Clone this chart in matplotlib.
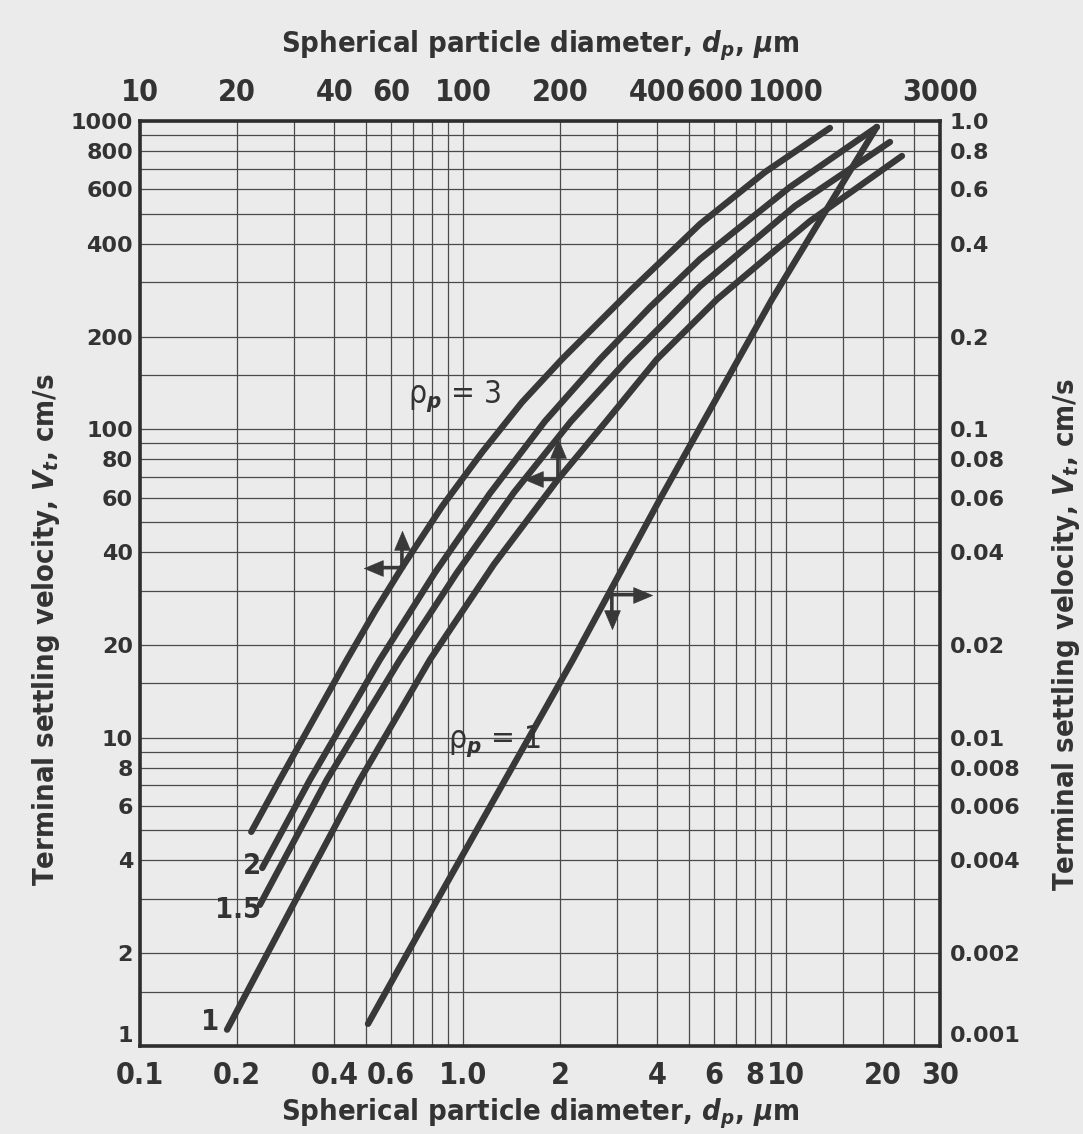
import matplotlib
matplotlib.use("Agg")
import matplotlib.pyplot as plt
from matplotlib import font_manager as fm
from matplotlib.transforms import offset_copy
from matplotlib.ticker import FixedLocator, FixedFormatter, NullLocator

# ---------------- data ----------------
# Family A: top axis diameter (um, 10-3000), left axis velocity (cm/s, 1-1000)
rho3_d = [22.1, 27.1, 43.7, 53.4, 64.7, 86.1, 114.5, 152.3, 202.5, 331.2, 541.8, 861, 1368]
rho3_v = [4.95, 7.31, 17.9, 25.7, 35.6, 56.2, 84.2, 122.4, 168.8, 282.7, 463, 682.6, 949]
rho2_d = [23.9, 33.6, 55.3, 81.9, 121.2, 179.4, 265.6, 379.2, 541.8, 1029, 1912]
rho2_v = [3.78, 7.31, 17.9, 34.3, 62.0, 106.2, 168.8, 248.9, 356.4, 610.7, 956]
rho15_d = [23.5, 37.9, 63.8, 95.8, 143.8, 216.0, 324, 419.1, 541.8, 1066, 2099]
rho15_v = [2.87, 7.31, 17.9, 34.3, 62.4, 106.2, 168.8, 220.9, 291, 529.7, 855]
rho1_d = [18.6, 29.8, 48.0, 79.0, 124.7, 196.8, 279.1, 398.6, 611.5, 1187, 2286]
rho1_v = [1.13, 2.87, 7.31, 17.9, 36.5, 68.8, 106.9, 168.8, 264, 473.5, 770]
# Family B: bottom axis diameter (um, 0.1-30), right axis velocity (cm/s, 0.001-1)
small_d = [0.508, 0.790, 2.19, 4.07, 9.05, 19.1]
small_v = [0.00118, 0.00270, 0.0179, 0.0593, 0.264, 0.956]

top_ticks = [10, 20, 40, 60, 100, 200, 400, 600, 1000, 3000]
top_labels = ["10", "20", "40", "60", "100", "200", "400", "600", "1000", "3000"]
bottom_ticks = [0.1, 0.2, 0.4, 0.6, 1.0, 2, 4, 6, 8, 10, 20, 30]
bottom_labels = ["0.1", "0.2", "0.4", "0.6", "1.0", "2", "4", "6", "8", "10", "20", "30"]
left_ticks = [1, 2, 4, 6, 8, 10, 20, 40, 60, 80, 100, 200, 400, 600, 800, 1000]
left_labels = ["1", "2", "4", "6", "8", "10", "20", "40", "60", "80", "100", "200",
               "400", "600", "800", "1000"]
right_ticks = [0.001, 0.002, 0.004, 0.006, 0.008, 0.01, 0.02, 0.04, 0.06, 0.08,
               0.1, 0.2, 0.4, 0.6, 0.8, 1.0]
right_labels = ["0.001", "0.002", "0.004", "0.006", "0.008", "0.01", "0.02", "0.04",
                "0.06", "0.08", "0.1", "0.2", "0.4", "0.6", "0.8", "1.0"]

grid_x = [10, 20, 30, 40, 50, 60, 70, 80, 90, 100, 200, 300, 400, 500, 600, 700, 800,
          900, 1000, 1500, 2000, 2500, 3000]
grid_y = [1, 1.5, 2, 3, 4, 5, 6, 7, 8, 9, 10, 15, 20, 30, 40, 50, 60, 70, 80, 90,
          100, 150, 200, 300, 400, 500, 600, 700, 800, 900, 1000]

# ---------------- fonts ----------------
names = {f.name for f in fm.fontManager.ttflist}
condensed_dejavu = any(f.name == 'DejaVu Sans' and f.stretch == 'condensed'
                       for f in fm.fontManager.ttflist)
if 'Liberation Sans Narrow' in names:
    NARROW = 'Liberation Sans Narrow'; STRETCH = 'normal'; SCALE = 1.0
elif condensed_dejavu:
    NARROW = 'DejaVu Sans'; STRETCH = 'condensed'; SCALE = 0.95
else:
    NARROW = 'Liberation Sans'; STRETCH = 'normal'; SCALE = 0.92

plt.rcParams['font.family'] = [NARROW, 'DejaVu Sans']
plt.rcParams['font.stretch'] = STRETCH
plt.rcParams['mathtext.fontset'] = 'custom'
plt.rcParams['mathtext.it'] = NARROW + ':italic:bold'
plt.rcParams['mathtext.rm'] = NARROW + ':bold'
plt.rcParams['mathtext.bf'] = NARROW + ':bold'

PAPER = '#ebebeb'
INK = '#383838'
TXT = '#333333'
GRID = '#4a4a4a'

fig = plt.figure(figsize=(10.83, 11.34), dpi=100)
fig.patch.set_facecolor(PAPER)
rect = [0.1293, 0.0776, 0.7387, 0.8157]
ax = fig.add_axes(rect)
ax.set_facecolor(PAPER)
axB = fig.add_axes(rect, frameon=False)
axB.patch.set_alpha(0)

XT = 23 * SCALE     # top/bottom tick labels
TT = 22 * SCALE     # axis titles
YT = 16             # left/right tick labels

# ----- family A axes (top / left) -----
ax.set_xscale('log'); ax.set_yscale('log')
ax.set_xlim(10, 3000); ax.set_ylim(1, 1000)
ax.xaxis.tick_top()
ax.yaxis.tick_left()
lab_top = {v: l for v, l in zip(top_ticks, top_labels)}
lab_left = {v: l for v, l in zip(left_ticks, left_labels)}
ax.xaxis.set_major_locator(FixedLocator(grid_x))
ax.xaxis.set_major_formatter(FixedFormatter([lab_top.get(v, "") for v in grid_x]))
ax.yaxis.set_major_locator(FixedLocator(grid_y))
ax.yaxis.set_major_formatter(FixedFormatter([lab_left.get(v, "") for v in grid_y]))
ax.xaxis.set_minor_locator(NullLocator())
ax.yaxis.set_minor_locator(NullLocator())
ax.grid(True, which='major', color=GRID, lw=0.9)
ax.tick_params(axis='x', length=0, pad=10, labelsize=XT, labelcolor=TXT)
ax.tick_params(axis='y', length=0, pad=5, labelsize=YT, labelcolor=TXT)
for t in ax.get_xticklabels():
    t.set_fontweight('bold')
for t in ax.get_yticklabels():
    t.set_family(['DejaVu Sans']); t.set_fontweight('bold'); t.set_stretch('normal')
    if t.get_text() == '1':
        t.set_va('bottom')
for s in ax.spines.values():
    s.set_linewidth(2.6); s.set_color('#2e2e2e')

# ----- family B axes (bottom / right) -----
axB.set_xscale('log'); axB.set_yscale('log')
axB.set_xlim(0.1, 30); axB.set_ylim(0.001, 1)
axB.xaxis.tick_bottom()
axB.yaxis.tick_right()
axB.xaxis.set_major_locator(FixedLocator(bottom_ticks))
axB.xaxis.set_major_formatter(FixedFormatter(bottom_labels))
axB.yaxis.set_major_locator(FixedLocator(right_ticks))
axB.yaxis.set_major_formatter(FixedFormatter(right_labels))
axB.xaxis.set_minor_locator(NullLocator())
axB.yaxis.set_minor_locator(NullLocator())
axB.tick_params(axis='x', length=0, pad=10.5, labelsize=XT, labelcolor=TXT)
axB.tick_params(axis='y', length=0, pad=7, labelsize=YT, labelcolor=TXT)
for t in axB.get_xticklabels():
    t.set_fontweight('bold')
for t in axB.get_yticklabels():
    t.set_family(['DejaVu Sans']); t.set_fontweight('bold'); t.set_stretch('normal')
    if t.get_text() == '0.001':
        t.set_va('bottom')

# axis titles
xl = "Spherical particle diameter, $d_p$, $\\mu$m"
yl = "Terminal settling velocity, $V_t$, cm/s"
ax.xaxis.set_label_position('top')
ax.set_xlabel(xl, fontsize=TT, fontweight='bold', color=TXT, labelpad=19)
axB.set_xlabel(xl, fontsize=TT, fontweight='bold', color=TXT, labelpad=5)
ax.set_ylabel(yl, fontsize=TT, fontweight='bold', color=TXT)
ax.yaxis.set_label_coords(-0.098, 0.45)
axB.yaxis.set_label_position('right')
axB.set_ylabel(yl, fontsize=TT, fontweight='bold', color=TXT)
axB.yaxis.set_label_coords(1.138, 0.445)

# ----- curves -----
lw = 4.6
for d, v in [(rho3_d, rho3_v), (rho2_d, rho2_v), (rho15_d, rho15_v), (rho1_d, rho1_v)]:
    ax.plot(d, v, color=INK, lw=lw, solid_capstyle='round', solid_joinstyle='round')
axB.plot(small_d, small_v, color=INK, lw=lw, solid_capstyle='round', solid_joinstyle='round')

# ----- arrows (reading direction) -----
HEAD = {  # elongated triangular heads, tip at the marker origin
    'left': [(0, 0), (1, 0.42), (1, -0.42), (0, 0)],
    'right': [(0, 0), (-1, 0.42), (-1, -0.42), (0, 0)],
    'up': [(0, 0), (0.42, -1), (-0.42, -1), (0, 0)],
    'down': [(0, 0), (0.42, 1), (-0.42, 1), (0, 0)],
}

def arrows(axis, pt, dirs):
    for name, dx, dy in dirs:
        ux = (dx > 0) - (dx < 0)
        uy = (dy > 0) - (dy < 0)
        tail = offset_copy(axis.transData, fig=fig, x=-1.8 * ux, y=-1.8 * uy, units='dots')
        shaft_end = offset_copy(axis.transData, fig=fig, x=dx - 9 * ux, y=dy - 9 * uy,
                                units='dots')
        tip = offset_copy(axis.transData, fig=fig, x=dx, y=dy, units='dots')
        axis.annotate('', xy=pt, xycoords=shaft_end, xytext=pt, textcoords=tail,
                      arrowprops=dict(arrowstyle='-', color=INK, lw=2.6,
                                      shrinkA=0, shrinkB=0))
        axis.plot([pt[0]], [pt[1]], transform=tip, marker=HEAD[name], ms=27,
                  color=INK, mec=INK, mew=0.5, ls='none')

arrows(ax, (64.7, 35.6), [('left', -38, 0), ('up', 0, 37)])
arrows(ax, (196.8, 68.8), [('left', -34, 0), ('up', 0, 40)])
arrows(axB, (2.89, 0.0291), [('right', 40, 0), ('down', 0, -34)])

# ----- text labels -----
rho_kw = dict(fontsize=24 * SCALE, color=TXT, ha='center', va='center')
num_kw = dict(fontsize=22 * SCALE, fontweight='bold', color=TXT, ha='center', va='center')
ax.text(94.5, 128, "ρ$_{\\mathit{p}}$ = 3", **rho_kw)
axB.text(1.256, 0.0097, "ρ$_{\\mathit{p}}$ = 1", **rho_kw)
ax.text(16.5, 1.2, "1", **num_kw)
ax.text(20.1, 2.76, "1.5", **num_kw)
ax.text(22.2, 3.84, "2", **num_kw)

fig.savefig("out.png", dpi=100, facecolor=PAPER)
